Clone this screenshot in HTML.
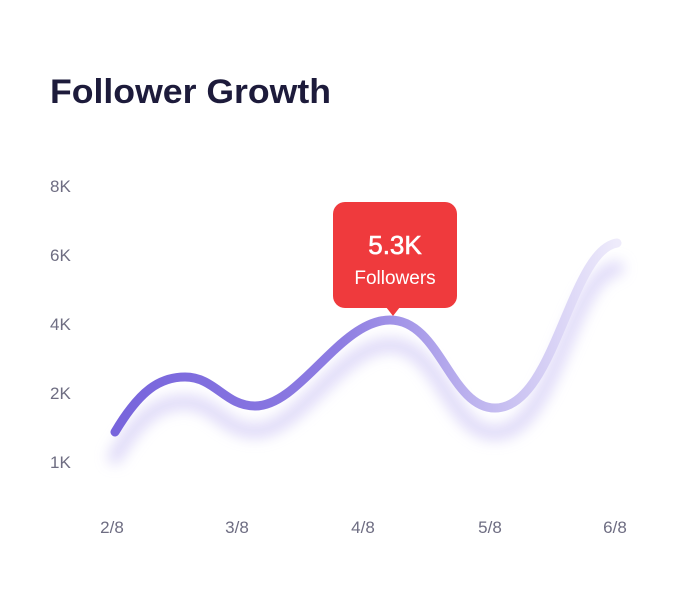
<!DOCTYPE html>
<html><head><style>
html,body{margin:0;padding:0;background:#fff;}
body{width:700px;height:600px;position:relative;overflow:hidden;font-family:"Liberation Sans",sans-serif;}
</style></head><body>
<svg width="700" height="600" viewBox="0 0 700 600" xmlns="http://www.w3.org/2000/svg">
<defs>
<linearGradient id="g" x1="115" y1="0" x2="617" y2="0" gradientUnits="userSpaceOnUse">
<stop offset="0" stop-color="#7764dc"/>
<stop offset="0.45" stop-color="#8e7de2"/>
<stop offset="0.75" stop-color="#c3baf0"/>
<stop offset="1" stop-color="#eeebfb"/>
</linearGradient>
<filter id="b" x="-20%" y="-50%" width="140%" height="200%"><feGaussianBlur stdDeviation="7"/></filter>
</defs>
<text x="50" y="103" font-size="34" font-weight="bold" fill="#1d1b3b" textLength="281" lengthAdjust="spacingAndGlyphs" font-family="Liberation Sans, sans-serif">Follower Growth</text>
<g font-size="17" fill="#6e6d82" font-family="Liberation Sans, sans-serif">
<text x="50" y="192">8K</text>
<text x="50" y="261">6K</text>
<text x="50" y="330">4K</text>
<text x="50" y="399">2K</text>
<text x="50" y="468">1K</text>
<g text-anchor="middle">
<text x="112" y="533">2/8</text>
<text x="237" y="533">3/8</text>
<text x="363" y="533">4/8</text>
<text x="490" y="533">5/8</text>
<text x="615" y="533">6/8</text>
</g>
</g>
<path d="M115,457 C140,415 160,402 185,402 C215,402 225,431 255,431 C300,431 340,345 390,345 C440,345 450,433 495,433 C555,433 570,275 617,268" fill="none" stroke="#d9d3f7" stroke-width="14" stroke-linecap="round" filter="url(#b)" opacity="0.9"/>
<path d="M115,432 C140,390 160,377 185,377 C215,377 225,406 255,406 C300,406 340,320 390,320 C440,320 450,408 495,408 C555,408 570,250 617,243" fill="none" stroke="url(#g)" stroke-width="9" stroke-linecap="round"/>
<rect x="333" y="202" width="124" height="106" rx="12" fill="#ef3a3d"/>
<path d="M386,307 L393,316 L400,307 Z" fill="#ef3a3d"/>
<text x="395" y="254" text-anchor="middle" font-size="26" fill="#fff" stroke="#fff" stroke-width="0.6" font-family="Liberation Sans, sans-serif">5.3K</text>
<text x="395" y="284" text-anchor="middle" font-size="19" fill="#fff" font-family="Liberation Sans, sans-serif">Followers</text>
</svg>
</body></html>
